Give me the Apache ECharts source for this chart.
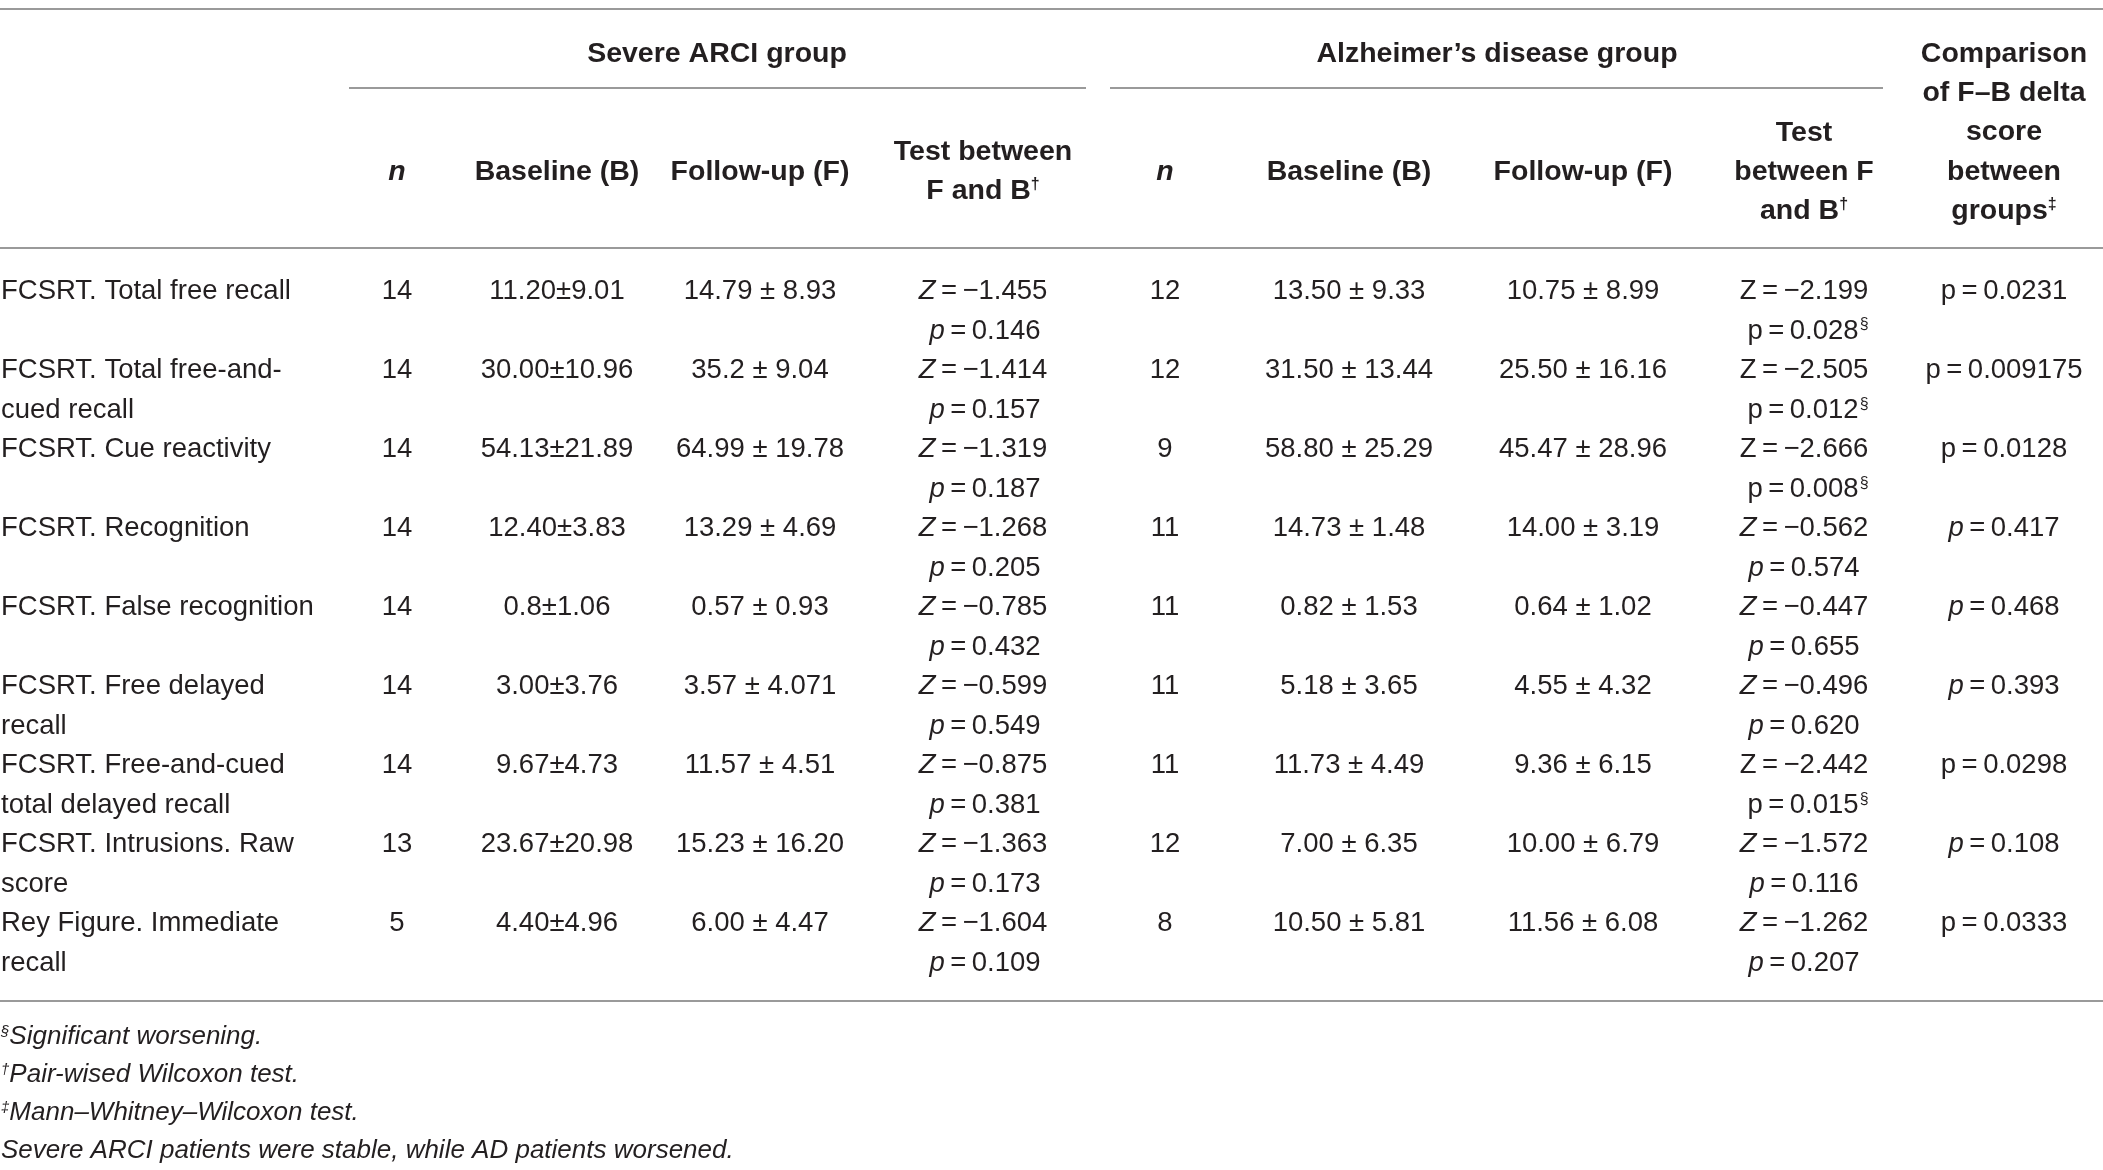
<!DOCTYPE html>
<html>
<head>
<meta charset="utf-8">
<script src="https://cdn.jsdelivr.net/npm/echarts@6/dist/echarts.min.js"></script>
<style>
  html, body { margin: 0; padding: 0; background: #fff; }
  #main { width: 2103px; height: 1170px; }
</style>
</head>
<body>
<div id="main"></div>
<script>
// table data
var rowLabels = [
  ['FCSRT. Total free recall'],
  ['FCSRT. Total free-and-', 'cued recall'],
  ['FCSRT. Cue reactivity'],
  ['FCSRT. Recognition'],
  ['FCSRT. False recognition'],
  ['FCSRT. Free delayed', 'recall'],
  ['FCSRT. Free-and-cued', 'total delayed recall'],
  ['FCSRT. Intrusions. Raw', 'score'],
  ['Rey Figure. Immediate', 'recall']
]
var arciN = [14, 14, 14, 14, 14, 14, 14, 13, 5]
var arciBaseline = ['11.20±9.01', '30.00±10.96', '54.13±21.89', '12.40±3.83', '0.8±1.06', '3.00±3.76', '9.67±4.73', '23.67±20.98', '4.40±4.96']
var arciFollowup = ['14.79 ± 8.93', '35.2 ± 9.04', '64.99 ± 19.78', '13.29 ± 4.69', '0.57 ± 0.93', '3.57 ± 4.071', '11.57 ± 4.51', '15.23 ± 16.20', '6.00 ± 4.47']
var arciZ = ['−1.455', '−1.414', '−1.319', '−1.268', '−0.785', '−0.599', '−0.875', '−1.363', '−1.604']
var arciP = ['0.146', '0.157', '0.187', '0.205', '0.432', '0.549', '0.381', '0.173', '0.109']
var adN = [12, 12, 9, 11, 11, 11, 11, 12, 8]
var adBaseline = ['13.50 ± 9.33', '31.50 ± 13.44', '58.80 ± 25.29', '14.73 ± 1.48', '0.82 ± 1.53', '5.18 ± 3.65', '11.73 ± 4.49', '7.00 ± 6.35', '10.50 ± 5.81']
var adFollowup = ['10.75 ± 8.99', '25.50 ± 16.16', '45.47 ± 28.96', '14.00 ± 3.19', '0.64 ± 1.02', '4.55 ± 4.32', '9.36 ± 6.15', '10.00 ± 6.79', '11.56 ± 6.08']
var adZ = ['−2.199', '−2.505', '−2.666', '−0.562', '−0.447', '−0.496', '−2.442', '−1.572', '−1.262']
var adP = ['0.028', '0.012', '0.008', '0.574', '0.655', '0.620', '0.015', '0.116', '0.207']
var adWorsened = [true, true, true, false, false, false, true, false, false]
var deltaP = ['0.0231', '0.009175', '0.0128', '0.417', '0.468', '0.393', '0.0298', '0.108', '0.0333']
var deltaItalic = [false, false, false, true, true, true, false, true, false]
var footnotes = [
  ['§', 'Significant worsening.'],
  ['†', 'Pair-wised Wilcoxon test.'],
  ['‡', 'Mann–Whitney–Wilcoxon test.'],
  ['', 'Severe ARCI patients were stable, while AD patients worsened.']
]

var FONT = '"Liberation Sans", Arial, Helvetica, sans-serif'
var INK = '#231f20'
var RULE = '#9a9a9a'
var FS = 27.5
var FSB = 28.5

var colX = { n1: 397, b1: 557, f1: 760, t1: 983, n2: 1165, b2: 1349, f2: 1583, t2: 1804, c: 2004 }
var rowTop = 291
var rowStep = 79.1
var lineStep = 40

var rich = {
  i: { fontStyle: 'italic', fontFamily: FONT, fontSize: FS, fill: INK },
  bi: { fontStyle: 'italic', fontWeight: 'bold', fontFamily: FONT, fontSize: FSB, fill: INK },
  sup: { fontFamily: FONT, fontSize: 16, fill: INK, verticalAlign: 'top', padding: [0, 0, 0, 1] },
  bsup: { fontFamily: FONT, fontSize: 16, fontWeight: 'bold', fill: INK, verticalAlign: 'top' }
}

function txt(s, x, y, opt) {
  opt = opt || {}
  return {
    type: 'text',
    x: x,
    y: y,
    silent: true,
    style: {
      text: s,
      fill: INK,
      fontFamily: FONT,
      fontSize: opt.size || (opt.bold ? FSB : FS),
      fontWeight: opt.bold ? 'bold' : 'normal',
      fontStyle: opt.italic ? 'italic' : 'normal',
      align: opt.align || 'center',
      verticalAlign: 'middle',
      rich: rich
    }
  }
}

function rule(x1, x2, y) {
  return {
    type: 'line',
    silent: true,
    shape: { x1: x1, y1: y, x2: x2, y2: y },
    style: { stroke: RULE, lineWidth: 2 }
  }
}

var els = []
els.push(rule(0, 2103, 9))
els.push(rule(0, 2103, 248))
els.push(rule(0, 2103, 1001))
els.push(rule(349, 1086, 88))
els.push(rule(1110, 1883, 88))

// header
els.push(txt('Severe ARCI group', 717, 54, { bold: true }))
els.push(txt('Alzheimer’s disease group', 1497, 54, { bold: true }))
var cmpHead = ['Comparison', 'of F–B delta', 'score', 'between', 'groups{bsup|‡}']
cmpHead.forEach(function (s, k) { els.push(txt(s, colX.c, 54 + k * 39.3, { bold: true })) })
els.push(txt('{bi|n}', colX.n1, 172, { bold: true }))
els.push(txt('Baseline (B)', colX.b1, 172, { bold: true }))
els.push(txt('Follow-up (F)', colX.f1, 172, { bold: true }))
els.push(txt('Test between', colX.t1, 152, { bold: true }))
els.push(txt('F and B{bsup|†}', colX.t1, 191, { bold: true }))
els.push(txt('{bi|n}', colX.n2, 172, { bold: true }))
els.push(txt('Baseline (B)', colX.b2, 172, { bold: true }))
els.push(txt('Follow-up (F)', colX.f2, 172, { bold: true }))
els.push(txt('Test', colX.t2, 133, { bold: true }))
els.push(txt('between F', colX.t2, 172, { bold: true }))
els.push(txt('and B{bsup|†}', colX.t2, 211, { bold: true }))

// body
var EQ = '\u2009=\u2009'
rowLabels.forEach(function (lines, r) {
  var y = rowTop + r * rowStep
  lines.forEach(function (s, k) { els.push(txt(s, 1, y + k * lineStep, { align: 'left' })) })
  els.push(txt(String(arciN[r]), colX.n1, y))
  els.push(txt(arciBaseline[r], colX.b1, y))
  els.push(txt(arciFollowup[r], colX.f1, y))
  els.push(txt('{i|Z}' + EQ + arciZ[r], colX.t1, y))
  els.push(txt('{i|p}' + EQ + arciP[r], colX.t1 + 2, y + lineStep))
  els.push(txt(String(adN[r]), colX.n2, y))
  els.push(txt(adBaseline[r], colX.b2, y))
  els.push(txt(adFollowup[r], colX.f2, y))
  if (adWorsened[r]) {
    els.push(txt('Z' + EQ + adZ[r], colX.t2, y))
    els.push(txt('p' + EQ + adP[r] + '{sup|§}', colX.t2 + 4, y + lineStep))
  } else {
    els.push(txt('{i|Z}' + EQ + adZ[r], colX.t2, y))
    els.push(txt('{i|p}' + EQ + adP[r], colX.t2, y + lineStep))
  }
  els.push(txt((deltaItalic[r] ? '{i|p}' : 'p') + EQ + deltaP[r], colX.c, y))
})

// footnotes
footnotes.forEach(function (f, k) {
  var s = (f[0] ? '{isup|' + f[0] + '}' : '') + f[1]
  var el = txt(s, 1, 1037 + k * 38, { align: 'left', italic: true, size: 26 })
  el.style.rich = {
    isup: { fontFamily: FONT, fontSize: 15, fontStyle: 'italic', fill: INK, verticalAlign: 'top' }
  }
  els.push(el)
})

var chart = echarts.init(document.getElementById('main'), null, { renderer: 'canvas' })
chart.setOption({
  backgroundColor: '#ffffff',
  animation: false,
  graphic: { elements: els }
})
</script>
</body>
</html>
